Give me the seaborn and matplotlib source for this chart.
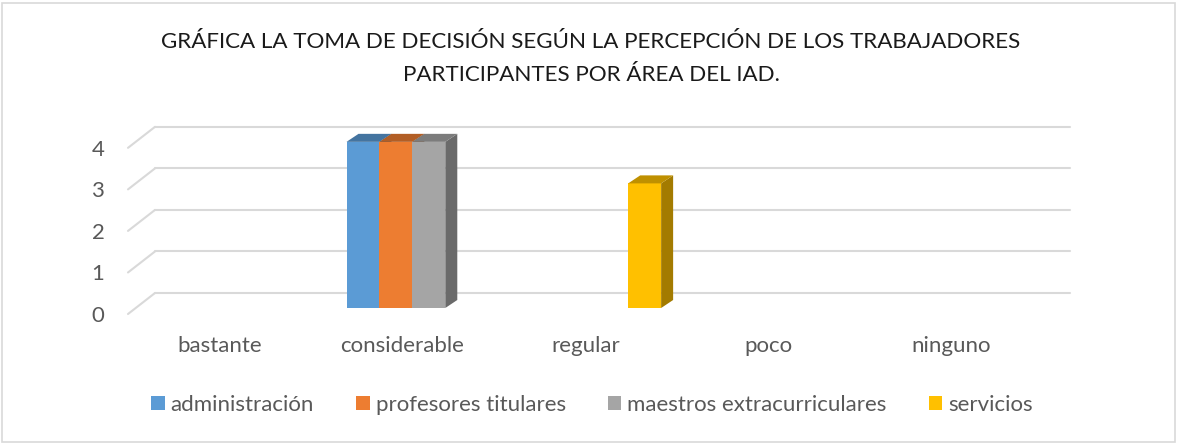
import matplotlib.pyplot as plt
import matplotlib.colors as mcolors
import matplotlib.transforms as mtransforms
from matplotlib.patches import Polygon, Rectangle
import pandas as pd
import seaborn as sns

# Data
categories = ['bastante', 'considerable', 'regular', 'poco', 'ninguno']
administracion = [0, 4, 0, 0, 0]
profesores_titulares = [0, 4, 0, 0, 0]
maestros_extracurriculares = [0, 4, 0, 0, 0]
servicios = [0, 0, 3, 0, 0]
series_names = ['administración', 'profesores titulares',
                'maestros extracurriculares', 'servicios']
y_ticks = [0, 1, 2, 3, 4]

colors = ['#5B9BD5', '#ED7D31', '#A5A5A5', '#FFC000']
title_lines = ['GRÁFICA LA TOMA DE DECISIÓN SEGÚN LA PERCEPCIÓN DE LOS TRABAJADORES',
               'PARTICIPANTES POR ÁREA DEL IAD.']


def shade(color, factor):
    r, g, b = mcolors.to_rgb(color)
    return (r * factor, g * factor, b * factor)


def make_chart():
    df = pd.DataFrame({
        'nivel': categories * 4,
        'area': sum([[name] * len(categories) for name in series_names], []),
        'valor': administracion + profesores_titulares
                 + maestros_extracurriculares + servicios,
    })

    sns.set_theme(style='white')
    plt.rcParams['font.family'] = ['Lato', 'DejaVu Sans']

    W, H = 1178, 444
    fig = plt.figure(figsize=(W / 100, H / 100), dpi=100)
    ax = fig.add_axes([128 / W, 130 / H, 942 / W, 189 / H])

    sns.barplot(data=df, x='nivel', y='valor', hue='area', order=categories,
                hue_order=series_names, palette=colors, width=0.72,
                saturation=1, ax=ax, linewidth=0)
    handles, labels = ax.get_legend_handles_labels()
    ax.get_legend().remove()

    ax.set_xlim(-0.5, 4.65)
    ax.set_ylim(0, 4.55)
    fig.canvas.draw()

    # pixel -> data scale
    p0 = ax.transData.transform((0, 0))
    p1 = ax.transData.transform((1, 1))
    px_x, px_y = p1[0] - p0[0], p1[1] - p0[1]

    # floor / back wall gridlines (3D look)
    gdx, gdy = 27 / px_x, 21 / px_y
    for y in y_ticks:
        ax.plot([-0.5, -0.5 + gdx], [y, y + gdy], color='#D9D9D9', lw=1.5,
                zorder=0, clip_on=False)
        ax.plot([-0.5 + gdx, 4.5 + gdx], [y + gdy, y + gdy], color='#D9D9D9',
                lw=1.5, zorder=0, clip_on=False)

    # bars sit a little deeper than the front plane
    shift = mtransforms.ScaledTranslation(10 / 100, 6 / 100, fig.dpi_scale_trans)
    bdx, bdy = 12 / px_x, 8 / px_y
    for i, container in enumerate(ax.containers):
        col = colors[i]
        for bar in container:
            bar.set_transform(ax.transData + shift)
            bar.set_zorder(3)
            h = bar.get_height()
            if h <= 0:
                continue
            x0, w = bar.get_x(), bar.get_width()
            side = Polygon([(x0 + w, 0), (x0 + w + bdx, bdy),
                            (x0 + w + bdx, h + bdy), (x0 + w, h)],
                           closed=True, facecolor=shade(col, 0.64),
                           edgecolor='none', zorder=2,
                           transform=ax.transData + shift, clip_on=False)
            top = Polygon([(x0, h), (x0 + bdx, h + bdy),
                           (x0 + w + bdx, h + bdy), (x0 + w, h)],
                          closed=True, facecolor=shade(col, 0.75),
                          edgecolor='none', zorder=4,
                          transform=ax.transData + shift, clip_on=False)
            ax.add_patch(side)
            ax.add_patch(top)

    for s in ax.spines.values():
        s.set_visible(False)
    ax.set_xlabel('')
    ax.set_ylabel('')
    ax.set_yticks(y_ticks)
    ax.tick_params(axis='y', length=0, pad=17, labelsize=16, labelcolor='#595959')
    ax.tick_params(axis='x', length=0, pad=16, labelsize=16, labelcolor='#595959')
    ax.patch.set_alpha(0)

    fig.text(591 / W, 1 - 42 / H, title_lines[0], ha='center', va='center',
             fontsize=16.1, color='#1a1a1a')
    fig.text(591 / W, 1 - 75 / H, title_lines[1], ha='center', va='center',
             fontsize=16.1, color='#1a1a1a')

    fig.legend(handles, labels, loc='center', bbox_to_anchor=(592 / W, 1 - 405 / H),
               ncol=4, frameon=False, fontsize=16, handlelength=0.6,
               handleheight=0.6, handletextpad=0.27, columnspacing=1.9,
               labelcolor='#595959')

    fig.patches.append(Rectangle((2 / W, 2 / H), 1 - 5 / W, 1 - 5 / H,
                                 transform=fig.transFigure, fill=False,
                                 edgecolor='#D9D9D9', lw=1.2))

    fig.savefig('out.png', dpi=100)


if __name__ == '__main__':
    make_chart()
